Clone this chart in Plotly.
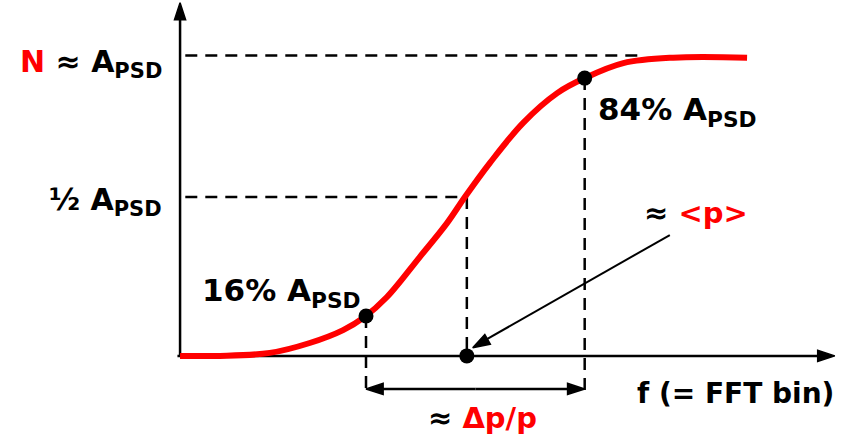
import plotly.graph_objects as go

# Cumulative power spectral density versus frequency bin (schematic sigmoid)
curve_f = [0, 6.1, 13.7, 19.8, 24.9, 28.2, 31.6, 36.6, 40.8, 43.5, 47.3,
           52.4, 57.6, 61.8, 67.7, 75.3, 86.6]
curve_a = [0, 0.0, 0.010, 0.043, 0.086, 0.130, 0.196, 0.329, 0.443, 0.529,
           0.642, 0.776, 0.875, 0.925, 0.975, 0.993, 0.993]

# Marked points: lower width point, upper width point, mean bin on the axis
mark_f = [28.4, 61.8, 43.8]
mark_a = [0.133, 0.925, 0.0]

# Reference levels
a_psd = 1.0
half_level = 0.529
f_mean = 43.8
f_low, f_high = 28.4, 61.8

FONT = "DejaVu Sans"
RED = "#ff0000"
BLACK = "#000000"

fig = go.Figure()
shapes = []
heads = []


def add_arrow(x0, y0, x1, y1, tip, width=2.5, head=18, layer="below"):
    """Shaft from (x0, y0) to (x1, y1); arrowhead tip sits on `tip`."""
    shapes.append(dict(type="line", x0=x0, y0=y0, x1=x1, y1=y1, layer=layer,
                       line=dict(color=BLACK, width=width)))
    heads.append((x0, y0, tip[0], tip[1], head))


# axes
add_arrow(0, -0.004, 0, 1.165, tip=(0, 1.176))
add_arrow(-0.4, 0, 99.0, 0, tip=(100.0, 0))

# width arrow between the 16 % and 84 % bins
f_mid = (f_low + f_high) / 2
add_arrow(f_mid, -0.11, f_high - 1.0, -0.11, tip=(f_high, -0.11))
add_arrow(f_mid, -0.11, f_low + 1.0, -0.11, tip=(f_low, -0.11))
# pointer to the mean bin
add_arrow(74.8, 0.4025, 46.0, 0.045, tip=(44.7, 0.027), width=2, layer="above")

fig.add_trace(go.Scatter(
    x=curve_f, y=curve_a, mode="lines",
    line=dict(color=RED, width=6, shape="spline"),
    hoverinfo="skip", showlegend=False,
))
fig.add_trace(go.Scatter(
    x=mark_f, y=mark_a, mode="markers",
    marker=dict(color=BLACK, size=15, opacity=1),
    hoverinfo="skip", showlegend=False,
))

# arrowheads, oriented along each shaft
for x0, y0, xt, yt, head in heads:
    fig.add_trace(go.Scatter(
        x=[x0, xt], y=[y0, yt], mode="markers",
        marker=dict(symbol="arrow", angleref="previous", size=[0, head],
                    color=BLACK, opacity=1, line=dict(color=BLACK, width=1.5)),
        hoverinfo="skip", showlegend=False,
    ))

dash = "12px,8px"
bottom_tick = -0.115
guide = dict(color=BLACK, width=2.5, dash=dash)
shapes += [
    dict(type="line", x0=0.8, x1=70, y0=a_psd, y1=a_psd, line=guide, layer="below"),
    dict(type="line", x0=0.8, x1=f_mean, y0=half_level, y1=half_level,
         line=guide, layer="below"),
    dict(type="line", x0=f_mean, x1=f_mean, y0=half_level, y1=0,
         line=guide, layer="below"),
    dict(type="line", x0=f_low, x1=f_low, y0=mark_a[0], y1=bottom_tick,
         line=guide, layer="below"),
    dict(type="line", x0=f_high, x1=f_high, y0=mark_a[1], y1=bottom_tick,
         line=guide, layer="below"),
]


def tfont(size):
    return dict(family=FONT, size=size, color=BLACK, weight="bold")


def sub(s):
    return "<sub>" + s + "</sub>"


annotations = [
    dict(x=-2.4, y=0.975, xanchor="right",
         font=tfont(30),
         text="<span style='color:%s'>N</span> ≈ A%s" % (RED, sub("PSD"))),
    dict(x=-2.4, y=0.515, xanchor="right",
         font=tfont(30), text="½ A" + sub("PSD")),
    dict(x=27.9, y=0.21, xanchor="right",
         font=tfont(31), text="16% A" + sub("PSD")),
    dict(x=63.6, y=0.815, xanchor="left",
         font=tfont(31), text="84% A" + sub("PSD")),
    dict(x=70.6, y=0.476, xanchor="left",
         font=tfont(29),
         text="≈ <span style='color:%s'>&lt;p&gt;</span>" % RED),
    dict(x=69.5, y=-0.124, xanchor="left",
         font=tfont(28), text="f (= FFT bin)"),
    dict(x=37.5, y=-0.207, xanchor="left",
         font=tfont(29),
         text="≈ <span style='color:%s'>Δp/p</span>" % RED),
]
for a in annotations:
    a.update(xref="x", yref="y", yanchor="middle", showarrow=False)

fig.update_layout(
    width=861, height=437,
    margin=dict(l=0, r=0, t=0, b=0),
    paper_bgcolor="white", plot_bgcolor="white",
    xaxis=dict(range=[-27.5, 104], visible=False, fixedrange=True),
    yaxis=dict(range=[-0.27, 1.185], visible=False, fixedrange=True),
    shapes=shapes, annotations=annotations,
    showlegend=False,
)

fig.write_html("out.html")
